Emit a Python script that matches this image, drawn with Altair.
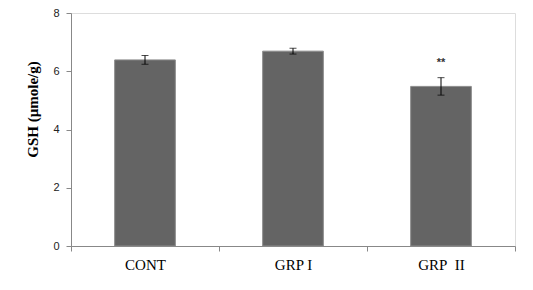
import altair as alt
import pandas as pd

groups = ["CONT", "GRP I", "GRP\u00a0\u00a0II"]
means = [6.39, 6.69, 5.48]
errs = [0.15, 0.10, 0.30]
marks = ["", "", "**"]

df = pd.DataFrame({
    "group": groups,
    "mean": means,
    "lo": [m - e for m, e in zip(means, errs)],
    "hi": [m + e for m, e in zip(means, errs)],
    "mark": marks,
    "markpos": [m + e + 0.5 for m, e in zip(means, errs)],
})

x = alt.X("group:N", sort=groups, title=None,
          scale=alt.Scale(paddingInner=0, paddingOuter=0),
          axis=alt.Axis(labelAngle=0, labelFont="Liberation Serif", labelFontSize=15,
                        labelColor="#000000", labelPadding=6, tickBand="extent",
                        tickSize=5, tickColor="#888888", domainColor="#888888"))

y_scale = alt.Scale(domain=[0, 8], nice=False)

bars = alt.Chart(df).mark_bar(width={"band": 0.41}, color="#646464",
                              stroke="#8c8c8c", strokeWidth=1).encode(
    x=x,
    y=alt.Y("mean:Q", scale=y_scale, title="GSH (µmole/g)",
            axis=alt.Axis(values=[0, 2, 4, 6, 8], grid=False, labelFont="Liberation Sans",
                          labelFontSize=11, labelColor="#222222", tickSize=5,
                          tickColor="#888888", domainColor="#888888", labelPadding=7,
                          titleFont="Liberation Serif", titleFontSize=15,
                          titleFontWeight="bold", titleColor="#000000", titlePadding=12,
                          titleY=96)),
)

rules = alt.Chart(df).mark_rule(color="#000000", strokeWidth=1).encode(
    x=alt.X("group:N", sort=groups), y=alt.Y("lo:Q", scale=y_scale), y2="hi:Q")

caps_lo = alt.Chart(df).mark_tick(color="#000000", thickness=1, size=7, orient="horizontal").encode(
    x=alt.X("group:N", sort=groups), y=alt.Y("lo:Q", scale=y_scale))
caps_hi = alt.Chart(df).mark_tick(color="#000000", thickness=1, size=7, orient="horizontal").encode(
    x=alt.X("group:N", sort=groups), y=alt.Y("hi:Q", scale=y_scale))

text = alt.Chart(df).mark_text(font="Liberation Sans", fontSize=11, fontWeight="bold",
                               color="#333333").encode(
    x=alt.X("group:N", sort=groups), y=alt.Y("markpos:Q", scale=y_scale), text="mark:N")

chart = alt.layer(bars, rules, caps_lo, caps_hi, text).properties(
    width=444, height=233,
    autosize=alt.AutoSizeParams(type="none"),
    padding={"left": 71, "top": 13, "right": 18, "bottom": 44},
).configure_view(stroke=None).configure(background="#ffffff")

chart.save("out.html", embed_options={"renderer": "svg", "actions": False})
